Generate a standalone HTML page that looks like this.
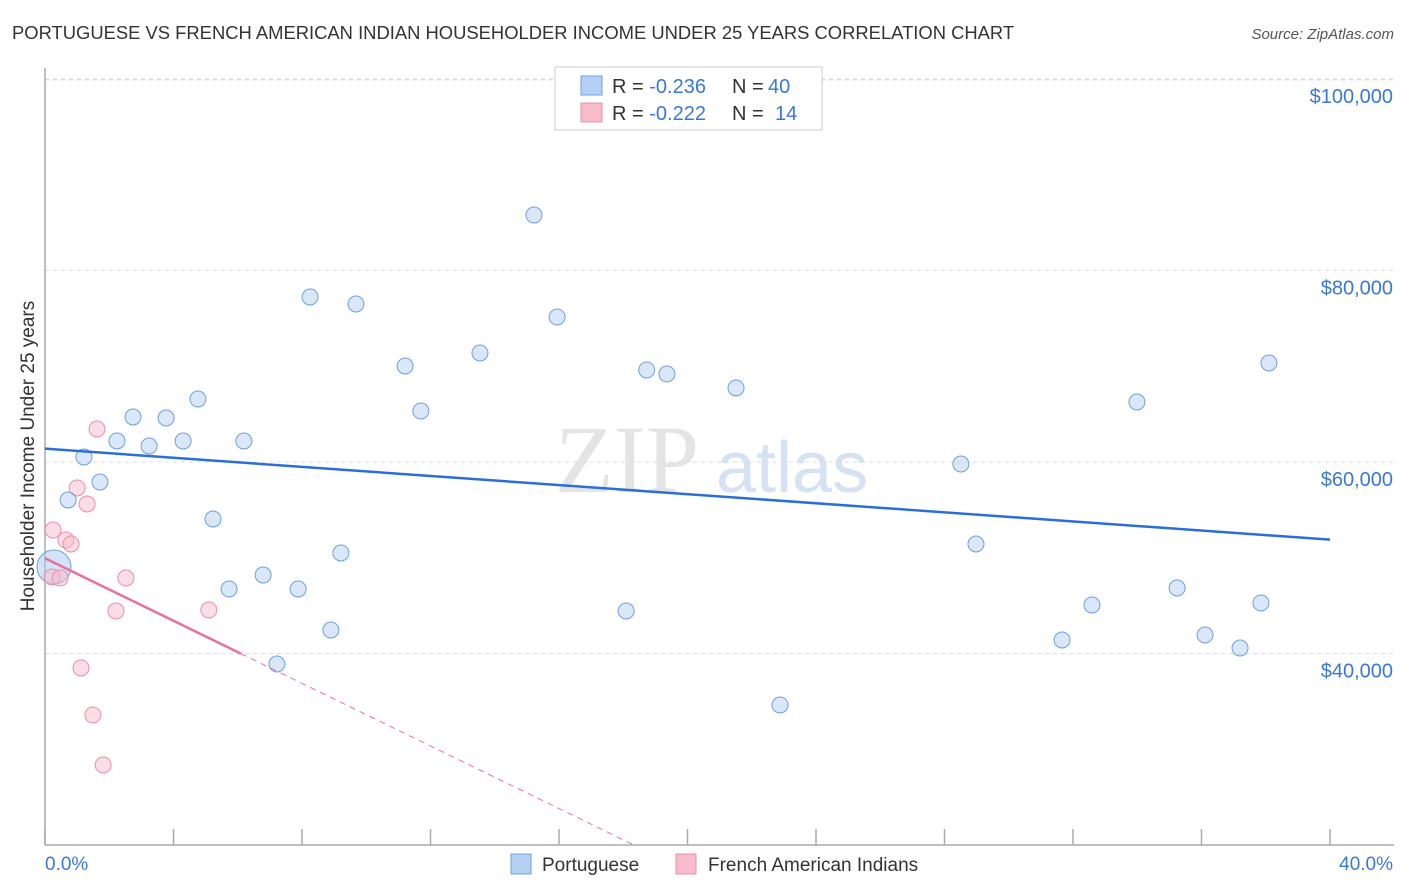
<!DOCTYPE html>
<html><head><meta charset="utf-8">
<style>
body{margin:0;background:#fff;font-family:"Liberation Sans",Arial,sans-serif;}
#wrap{position:relative;width:1406px;height:892px;overflow:hidden;}
</style></head>
<body>
<div id="wrap">
<svg id="chart" width="1406" height="892"></svg>
</div>
<script>
const blueX=[0.28,0.72,1.21,1.71,2.24,2.74,3.24,3.77,4.30,4.76,5.23,5.73,6.19,6.79,7.22,7.88,8.25,8.90,9.21,9.68,11.21,11.70,13.54,15.22,15.94,18.09,18.73,19.36,21.51,22.88,28.51,28.98,31.66,32.59,33.99,35.24,36.11,37.20,37.85,38.10];
const blueY=[49034,56032,60523,57912,62194,64700,61671,64596,62194,66580,54047,46737,62194,48199,38904,46737,77233,42455,50496,76502,70027,65327,71384,85797,75144,44439,69609,69191,67729,34622,59792,51436,41410,45066,66267,46841,41932,40575,45274,70340];
const pinkX=[0.22,0.25,0.47,0.65,0.81,1.00,1.31,1.62,1.12,1.49,1.81,2.21,2.52,5.10];
const pinkY=[47990,52899,47886,51854,51436,57285,55614,63447,38486,33577,28355,44439,47886,44543];
const yTicks=[40000,60000,80000,100000];
const yTickLabels=["$40,000","$60,000","$80,000","$100,000"];
const legendR=["-0.236","-0.222"];
const legendN=["40","14"];

const NS="http://www.w3.org/2000/svg";
const svg=document.getElementById('chart');
const X0=45,X1=1330,YB=845,PX=191.5/20000;
function sx(v){return X0+(v/40)*(X1-X0);}
function sy(v){return YB-(v-20000)*PX;}
function mk(tag,attrs,parent){const e=document.createElementNS(NS,tag);for(const k in attrs)e.setAttribute(k,attrs[k]);(parent||svg).appendChild(e);return e;}

let t=mk('text',{x:12,y:39,'font-size':18.4,fill:'#333'});


t.textContent='PORTUGUESE VS FRENCH AMERICAN INDIAN HOUSEHOLDER INCOME UNDER 25 YEARS CORRELATION CHART';
t=mk('text',{x:1394,y:39,'font-size':15,fill:'#555','font-style':'italic','text-anchor':'end'});


t.textContent='Source: ZipAtlas.com';

t=mk('text',{x:555,y:492,'font-size':96,fill:'#e4e4e4','font-family':'Liberation Serif,serif'});


t.textContent='ZIP';
t=mk('text',{x:716,y:492,'font-size':72,fill:'#d4e2f4'});


t.textContent='atlas';

mk('line',{x1:X0,x2:1394,y1:80,y2:80,stroke:'#ddd','stroke-dasharray':'4,4'});
yTicks.forEach((v,i)=>{
  const g=mk('line',{x1:X0,x2:1394,y1:sy(v),y2:sy(v),stroke:'#ddd','stroke-dasharray':'4,4'});
  
  
  const l=mk('text',{x:1393,y:sy(v)+24,'font-size':20,fill:'#3a78d8','text-anchor':'end'});
  
  
  l.textContent=yTickLabels[i];
});
mk('line',{x1:X0,x2:X0,y1:68,y2:YB,stroke:'#aaa','stroke-width':1.5});
mk('line',{x1:X0,x2:1394,y1:YB,y2:YB,stroke:'#aaa','stroke-width':1.5});
for(let i=0;i<=10;i++){const x=sx(i*4);mk('line',{x1:x,x2:x,y1:829,y2:YB,stroke:'#aaa','stroke-width':1.5});}
t=mk('text',{x:45,y:870,'font-size':19,fill:'#3a78d8'});


t.textContent='0.0%';
t=mk('text',{x:1393,y:870,'font-size':19,fill:'#3a78d8','text-anchor':'end'});


t.textContent='40.0%';
t=mk('text',{x:34,y:456,'font-size':19,fill:'#333','text-anchor':'middle',transform:'rotate(-90 34 456)'});


t.textContent='Householder Income Under 25 years';

function reg(xs,ys){const n=xs.length;let mx=0,my=0;for(let i=0;i<n;i++){mx+=xs[i];my+=ys[i];}mx/=n;my/=n;let a=0,b=0;for(let i=0;i<n;i++){a+=(xs[i]-mx)*(ys[i]-my);b+=(xs[i]-mx)**2;}const s=a/b;return [s,my-s*mx];}

function pts(xs,ys,fill,stroke,name){
  xs.forEach((x,i)=>{
    const c=mk('circle',{cx:sx(x),cy:sy(ys[i]),r:8,fill:fill,'fill-opacity':0.5,stroke:stroke,'stroke-width':1});
    
    
  });
}
const bp=mk('circle',{cx:sx(blueX[0]),cy:sy(blueY[0]),r:17,fill:'#a8c8f0','fill-opacity':0.5,stroke:'#6fa0dc'});


pts(pinkX,pinkY,'#f7bccb','#e890aa','french-american-indian-point');
pts(blueX.slice(1),blueY.slice(1),'#b4d0f2','#6fa0dc','portuguese-point');

let [bs,bi]=reg(blueX,blueY);
let ln=mk('line',{x1:sx(0),y1:sy(bi),x2:sx(40),y2:sy(bi+bs*40),stroke:'#2a6fd6','stroke-width':2.5});


let [ps,pi]=reg(pinkX,pinkY);
const xe=6.1;
ln=mk('line',{x1:sx(0),y1:sy(pi),x2:sx(xe),y2:sy(pi+ps*xe),stroke:'#e8709a','stroke-width':2.5});


const xz=(20000-pi)/ps;
ln=mk('line',{x1:sx(xe),y1:sy(pi+ps*xe),x2:sx(xz),y2:sy(20000),stroke:'#e8709a','stroke-width':1,'stroke-dasharray':'6,5'});



const lg=mk('g',{});


mk('rect',{x:555,y:67,width:267,height:63,fill:'#fff',stroke:'#ccc'},lg);
const cols=[['#b4d0f2','#6fa0dc'],['#f7bccb','#e890aa']];
[0,1].forEach(i=>{
  const y=86+i*27;
  mk('rect',{x:581,y:y-10,width:21,height:19,fill:cols[i][0],stroke:cols[i][1]},lg);
  const tx=mk('text',{x:612,y:y+7,'font-size':20,fill:'#333'},lg);
  
  
  tx.innerHTML='R = <tspan fill="#3a78d8">'+legendR[i]+'</tspan><tspan x="732">N = </tspan><tspan x="'+(i?775:768)+'" fill="#3a78d8">'+legendN[i]+'</tspan>';
});
const bl=[['Portuguese',511,542],['French American Indians',676,708]];
bl.forEach((b,i)=>{
  const r=mk('rect',{x:b[1],y:854,width:20,height:20,fill:cols[i][0],stroke:cols[i][1]});
  
  
  const tx=mk('text',{x:b[2],y:871,'font-size':19,fill:'#333'});
  
  
  tx.textContent=b[0];
});
</script>
</body></html>
